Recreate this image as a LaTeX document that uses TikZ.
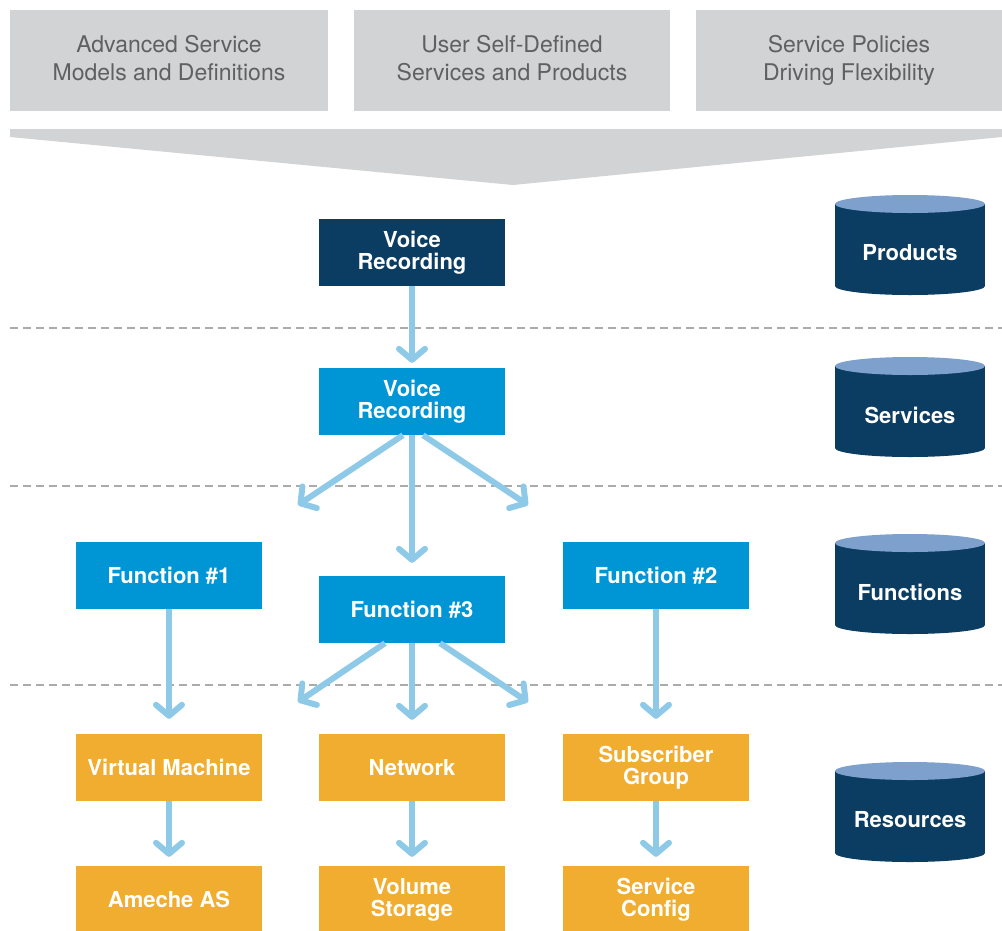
\documentclass[tikz,border=0pt]{standalone}
\usepackage{fontspec}
\setmainfont{TeX Gyre Heros}
\usetikzlibrary{arrows.meta}
\definecolor{navy}{HTML}{0B3C61}
\definecolor{skyblue}{HTML}{0096D6}
\definecolor{amber}{HTML}{F0AD2F}
\definecolor{arrowblue}{HTML}{8ECAE8}
\definecolor{lidblue}{HTML}{7DA0CD}
\definecolor{headgray}{HTML}{D1D3D4}
\definecolor{headtext}{HTML}{5F6062}
\definecolor{dashgray}{HTML}{ABABAB}
\newcommand{\headtxt}[1]{\raisebox{2pt}{\begin{tabular}{@{}c@{}}#1\end{tabular}}}
\tikzset{
    headbox/.style={fill=headgray, text=headtext, minimum height=101pt, inner sep=0pt, align=center, font=\fontsize{23}{28}\selectfont},
    block/.style={minimum width=186pt, minimum height=67pt, inner sep=0pt, align=center, text=white, font=\fontsize{22}{22}\selectfont\bfseries},
    product/.style={block, fill=navy},
    service/.style={block, fill=skyblue},
    resource/.style={block, fill=amber},
    dblabel/.style={text=white, inner sep=0pt, font=\fontsize{22}{22}\selectfont\bfseries},
    flow/.style={draw=arrowblue, line width=6pt, -{Straight Barb[round,length=11pt,width=26pt]}},
    layer/.style={draw=dashgray, line width=2pt, dash pattern=on 8pt off 5pt},
}
\begin{document}
\begin{tikzpicture}[x=1pt,y=-1pt]
    \useasboundingbox (0,0) rectangle (1002,930);
    %header boxes
    \node[headbox, minimum width=318pt] (hmodels) at (169,60.5) {\headtxt{Advanced Service\\Models and Definitions}};
    \node[headbox, minimum width=316pt] (hself) at (512,60.5) {\headtxt{User Self-Defined\\Services and Products}};
    \node[headbox, minimum width=306pt] (hpolicy) at (849,60.5) {\headtxt{Service Policies\\Driving Flexibility}};
    \fill[headgray] (10,129) -- (1002,129) -- (1002,137) -- (513,185) -- (10,137) -- cycle;
    %layer separators
    \foreach \y in {328,486,685}
        \draw[layer] (10,\y) -- (1002,\y);
    %layer databases
    \foreach \yt/\name/\txt in {195/prod/Products,357/serv/Services,534/func/Functions,762/res/Resources}
        {%
            \fill[navy] (835,\yt+9) rectangle (985,\yt+91);
            \fill[navy] (910,\yt+91) ellipse [x radius=75pt, y radius=9pt];
            \fill[lidblue] (910,\yt+9) ellipse [x radius=75pt, y radius=9pt];
            \node[dblabel] (db\name) at (910,\yt+58) {\txt};
        }
    %boxes
    \node[product] (prodvr) at (412,252.5) {Voice\\Recording};
    \node[service] (servvr) at (412,401.5) {Voice\\Recording};
    \node[service] (fnone) at (169,575.5) {Function \#1};
    \node[service] (fnthree) at (412,609.5) {Function \#3};
    \node[service] (fntwo) at (656,575.5) {Function \#2};
    \node[resource] (vm) at (169,767.5) {Virtual Machine};
    \node[resource] (net) at (412,767.5) {Network};
    \node[resource] (subgrp) at (656,767.5) {Subscriber\\Group};
    \node[resource] (ameche) at (169,899.5) {Ameche AS};
    \node[resource] (volume) at (412,899.5) {Volume\\Storage};
    \node[resource] (svcconf) at (656,899.5) {Service\\Config};
    %free arrow ends
    \coordinate (servleft) at (298,505);
    \coordinate (servright) at (528,505);
    \coordinate (fnleft) at (298,702);
    \coordinate (fnright) at (528,702);
    %arrows
    \draw[flow, shorten >=5pt] (prodvr) -- (servvr);
    \draw[flow, shorten >=13pt] (servvr) -- (fnthree);
    \draw[flow] ([xshift=-9pt]servvr.south) -- (servleft);
    \draw[flow] ([xshift=11pt]servvr.south) -- (servright);
    \draw[flow] ([xshift=-27pt]fnthree.south) -- (fnleft);
    \draw[flow] ([xshift=28pt]fnthree.south) -- (fnright);
    \draw[flow, shorten >=15pt] (fnone) -- (vm);
    \draw[flow, shorten >=14pt] (fnthree) -- (net);
    \draw[flow, shorten >=15pt] (fntwo) -- (subgrp);
    \draw[flow, shorten >=9pt] (vm) -- (ameche);
    \draw[flow, shorten >=9pt] (net) -- (volume);
    \draw[flow, shorten >=9pt] (subgrp) -- (svcconf);
\end{tikzpicture}
\end{document}
